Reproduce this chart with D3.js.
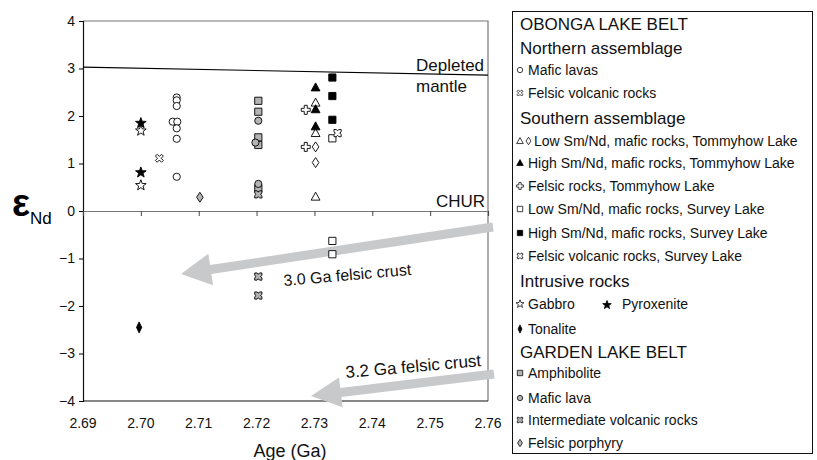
<!DOCTYPE html>
<html>
<head>
<meta charset="utf-8">
<script src="https://cdn.jsdelivr.net/npm/d3@7"></script>
<style>
  html, body { margin: 0; padding: 0; background: #fff; }
  svg { display: block; font-family: Arial, "Liberation Sans", sans-serif; }
</style>
</head>
<body>
<svg id="chart" width="817" height="460"></svg>
<script>
// --- data: [age (Ga), eNd] ---
const xTicks = [2.69, 2.70, 2.71, 2.72, 2.73, 2.74, 2.75, 2.76];
const yTicks = [-4, -3, -2, -1, 0, 1, 2, 3, 4];
const depletedMantle = [[2.69, 3.03], [2.76, 2.86]];

const maficLavasN   = [[2.7062, 2.39], [2.7062, 2.33], [2.7062, 2.21], [2.7055, 1.88], [2.7063, 1.88], [2.7062, 1.74], [2.7062, 1.52], [2.7062, 0.72]];
const felsicVolcN   = [[2.7032, 1.11]];
const lowTriT       = [[2.7302, 2.28], [2.7302, 1.64], [2.7302, 0.30]];
const lowDiaT       = [[2.7302, 1.35], [2.7302, 1.02]];
const highTriT      = [[2.7302, 2.60], [2.7302, 2.14], [2.7302, 1.78]];
const felsicT       = [[2.7285, 2.13], [2.7285, 1.35]];
const lowSqS        = [[2.7331, 1.53], [2.7331, -0.63], [2.7331, -0.91]];
const highSqS       = [[2.7331, 2.81], [2.7331, 2.42], [2.7331, 1.92]];
const felsicVolcS   = [[2.7340, 1.64]];
const gabbro        = [[2.7000, 1.69], [2.7000, 0.54]];
const pyroxenite    = [[2.7000, 1.85], [2.7000, 0.81]];
const tonalite      = [[2.6997, -2.45]];
const amphibolite   = [[2.7203, 2.32], [2.7203, 2.09], [2.7203, 1.55], [2.7203, 1.39], [2.7203, 0.48]];
const maficLavaG    = [[2.7203, 1.90], [2.7198, 1.44], [2.7203, 0.57]];
const intermVolcG   = [[2.7203, 0.35], [2.7203, -1.38], [2.7203, -1.78]];
const felsicPorphG  = [[2.7102, 0.29]];

const GREY = "#b4b4b4";

// marker shapes, centred on 0,0
const shapes = {
  circle: "M3.6,0A3.6,3.6,0,1,1,-3.6,0A3.6,3.6,0,1,1,3.6,0Z",
  square: "M-3.6,-3.6H3.6V3.6H-3.6Z",
  triangle: "M0,-4.6L4.4,3.4H-4.4Z",
  diamond: "M0,-5L3.3,0L0,5L-3.3,0Z",
  thinDiamond: "M0,-5.5L2.6,0L0,5.5L-2.6,0Z",
  cross: "M-1.5,-4.5H1.5V-1.5H4.5V1.5H1.5V4.5H-1.5V1.5H-4.5V-1.5H-1.5Z",
  xcross: "M-4,-2.2L-2.2,-4L0,-1.8L2.2,-4L4,-2.2L1.8,0L4,2.2L2.2,4L0,1.8L-2.2,4L-4,2.2L-1.8,0Z",
  notched: "M-3.6,-3.6H-1.2L0,-2.2L1.2,-3.6H3.6V-1.2L2.2,0L3.6,1.2V3.6H1.2L0,2.2L-1.2,3.6H-3.6V1.2L-2.2,0L-3.6,-1.2Z",
  star: starPath(5.6, 2.3)
};

function starPath(R, r) {
  const pts = [];
  for (let i = 0; i < 10; i++) {
    const a = -Math.PI / 2 + i * Math.PI / 5;
    const rad = i % 2 ? r : R;
    pts.push([rad * Math.cos(a), rad * Math.sin(a)]);
  }
  return "M" + pts.map(p => p[0].toFixed(2) + "," + p[1].toFixed(2)).join("L") + "Z";
}

// draw order matters where markers overlap
const series = [
  { data: maficLavasN,  shape: "circle",      fill: "#fff" },
  { data: felsicVolcN,  shape: "xcross",      fill: "#fff" },
  { data: felsicPorphG, shape: "diamond",     fill: GREY },
  { data: amphibolite,  shape: "square",      fill: GREY },
  { data: maficLavaG,   shape: "circle",      fill: GREY },
  { data: intermVolcG,  shape: "notched",     fill: GREY },
  { data: lowTriT,      shape: "triangle",    fill: "#fff" },
  { data: highTriT,     shape: "triangle",    fill: "#000" },
  { data: lowDiaT,      shape: "diamond",     fill: "#fff" },
  { data: felsicT,      shape: "cross",       fill: "#fff" },
  { data: lowSqS,       shape: "square",      fill: "#fff" },
  { data: highSqS,      shape: "square",      fill: "#000" },
  { data: felsicVolcS,  shape: "notched",     fill: "#fff" },
  { data: gabbro,       shape: "star",        fill: "#fff" },
  { data: pyroxenite,   shape: "star",        fill: "#000" },
  { data: tonalite,     shape: "thinDiamond", fill: "#000" }
];

const svg = d3.select("#chart");
const x = d3.scaleLinear().domain([2.69, 2.76]).range([83, 488]);
const y = d3.scaleLinear().domain([-4, 4]).range([401, 21]);

// frame: top and right in grey, left axis and bottom in black
svg.append("path")
  .attr("d", `M${x(2.69)},${y(4)}H${x(2.76)}V${y(-4)}`)
  .attr("fill", "none").attr("stroke", "#777").attr("stroke-width", 1.2);
svg.append("line")
  .attr("x1", x(2.69)).attr("x2", x(2.76)).attr("y1", y(-4)).attr("y2", y(-4))
  .attr("stroke", "#111").attr("stroke-width", 1.2);

// y axis
const yAxis = svg.append("g")
  .attr("transform", `translate(${x(2.69)},0)`)
  .call(d3.axisLeft(y).tickValues(yTicks).tickSize(4).tickFormat(d3.format("d")));
yAxis.select(".domain").attr("stroke", "#111").attr("stroke-width", 1.2);
yAxis.selectAll("text").attr("font-size", 14).attr("fill", "#111")
  .attr("font-family", "Arial, 'Liberation Sans', sans-serif").attr("x", -8);

// CHUR line with the x ticks hanging from it
const xAxis = svg.append("g")
  .attr("transform", `translate(0,${y(0)})`)
  .call(d3.axisBottom(x).tickValues(xTicks).tickSize(5).tickFormat(""));
xAxis.select(".domain").attr("stroke", "#777").attr("stroke-width", 1.2);
xAxis.selectAll(".tick line").attr("stroke", "#444");

// x tick labels along the bottom
svg.append("g").selectAll("text")
  .data(xTicks).join("text")
  .attr("x", d => x(d)).attr("y", y(-4) + 22)
  .attr("text-anchor", "middle").attr("dy", "0.35em")
  .attr("font-size", 14).attr("fill", "#111")
  .text(d => d3.format(".2f")(d));

svg.append("text")
  .attr("x", 290).attr("y", 451).attr("dy", "0.35em")
  .attr("text-anchor", "middle").attr("font-size", 18).attr("fill", "#111")
  .text("Age (Ga)");

// epsilon Nd label
const yl = svg.append("text").attr("x", 12).attr("y", 216).attr("fill", "#000");
yl.append("tspan").attr("font-size", 38).attr("font-weight", "bold").text("ε");
yl.append("tspan").attr("font-size", 17).attr("dy", 8).text("Nd");

// depleted mantle line
svg.append("line")
  .attr("x1", x(depletedMantle[0][0])).attr("y1", y(depletedMantle[0][1]))
  .attr("x2", x(depletedMantle[1][0])).attr("y2", y(depletedMantle[1][1]))
  .attr("stroke", "#000").attr("stroke-width", 1.2);

svg.append("text").attr("x", 416).attr("y", 65).attr("dy", "0.35em")
  .attr("font-size", 17).attr("fill", "#111").text("Depleted");
svg.append("text").attr("x", 416).attr("y", 86).attr("dy", "0.35em")
  .attr("font-size", 17).attr("fill", "#111").text("mantle");
svg.append("text").attr("x", 485).attr("y", 201).attr("dy", "0.35em")
  .attr("text-anchor", "end").attr("font-size", 17).attr("fill", "#111").text("CHUR");

// crustal evolution arrows
function arrow(tail, tip, shaft, headLen, headHalf) {
  const dx = tip[0] - tail[0], dy = tip[1] - tail[1];
  const L = Math.hypot(dx, dy), ux = dx / L, uy = dy / L, nx = -uy, ny = ux;
  const bx = tip[0] - ux * headLen, by = tip[1] - uy * headLen;
  const p = [
    [tail[0] + nx * shaft, tail[1] + ny * shaft],
    [bx + nx * shaft, by + ny * shaft],
    [bx + nx * headHalf, by + ny * headHalf],
    tip,
    [bx - nx * headHalf, by - ny * headHalf],
    [bx - nx * shaft, by - ny * shaft],
    [tail[0] - nx * shaft, tail[1] - ny * shaft]
  ];
  return "M" + p.map(q => q.join(",")).join("L") + "Z";
}
svg.append("path").attr("d", arrow([493, 227], [181, 274], 4.5, 30, 16)).attr("fill", "#c8c9cb");
svg.append("path").attr("d", arrow([494, 374], [311, 396], 4.5, 30, 15)).attr("fill", "#c8c9cb");

svg.append("text").attr("transform", "translate(284,286) rotate(-5)")
  .attr("font-size", 16).attr("fill", "#111").text("3.0 Ga felsic crust");
svg.append("text").attr("transform", "translate(346,378) rotate(-5)")
  .attr("font-size", 17).attr("fill", "#111").text("3.2 Ga felsic crust");

// data markers
const marks = svg.append("g");
series.forEach(s => {
  marks.append("g").selectAll("path")
    .data(s.data).join("path")
    .attr("transform", d => `translate(${x(d[0])},${y(d[1])})`)
    .attr("d", shapes[s.shape])
    .attr("fill", s.fill).attr("stroke", "#000").attr("stroke-width", 0.9);
});

// legend
const legendRows = [
  { y: 24,  head: "OBONGA LAKE BELT" },
  { y: 48,  head: "Northern assemblage" },
  { y: 70,  marks: [["circle", "#fff"]], label: "Mafic lavas" },
  { y: 93,  marks: [["xcross", "#fff"]], label: "Felsic volcanic rocks" },
  { y: 118, head: "Southern assemblage" },
  { y: 141, marks: [["triangle", "#fff"], ["diamond", "#fff"]], label: "Low Sm/Nd, mafic rocks, Tommyhow Lake" },
  { y: 163, marks: [["triangle", "#000"]], label: "High Sm/Nd, mafic rocks, Tommyhow Lake" },
  { y: 186, marks: [["cross", "#fff"]], label: "Felsic rocks, Tommyhow Lake" },
  { y: 209, marks: [["square", "#fff"]], label: "Low Sm/Nd, mafic rocks, Survey Lake" },
  { y: 233, marks: [["square", "#000"]], label: "High Sm/Nd, mafic rocks, Survey Lake" },
  { y: 256, marks: [["notched", "#fff"]], label: "Felsic volcanic rocks, Survey Lake" },
  { y: 281, head: "Intrusive rocks" },
  { y: 304, marks: [["star", "#fff"]], label: "Gabbro" },
  { y: 329, marks: [["thinDiamond", "#000"]], label: "Tonalite" },
  { y: 352, head: "GARDEN LAKE BELT" },
  { y: 373, marks: [["square", GREY]], label: "Amphibolite" },
  { y: 398, marks: [["circle", GREY]], label: "Mafic lava" },
  { y: 420, marks: [["notched", GREY]], label: "Intermediate volcanic rocks" },
  { y: 443, marks: [["diamond", GREY]], label: "Felsic porphyry" }
];

const lg = svg.append("g");
lg.append("rect").attr("x", 512.5).attr("y", 11.5).attr("width", 300).attr("height", 442)
  .attr("fill", "#fff").attr("stroke", "#111").attr("stroke-width", 1);

legendRows.forEach(r => {
  if (r.head) {
    lg.append("text").attr("x", 520).attr("y", r.y).attr("dy", "0.35em")
      .attr("font-size", 17).attr("fill", "#111").text(r.head);
    return;
  }
  r.marks.forEach((m, i) => {
    lg.append("path").attr("d", shapes[m[0]])
      .attr("transform", `translate(${520 + i * 8.5},${r.y}) scale(0.75)`)
      .attr("fill", m[1]).attr("stroke", "#000").attr("stroke-width", 1);
  });
  lg.append("text").attr("x", r.marks.length > 1 ? 534 : 528).attr("y", r.y).attr("dy", "0.35em")
    .attr("font-size", 14).attr("fill", "#111").text(r.label);
});
// Pyroxenite sits on the Gabbro row
lg.append("path").attr("d", shapes.star).attr("transform", "translate(607,305) scale(0.8)")
  .attr("fill", "#000").attr("stroke", "#000");
lg.append("text").attr("x", 622).attr("y", 304).attr("dy", "0.35em")
  .attr("font-size", 14).attr("fill", "#111").text("Pyroxenite");
</script>
</body>
</html>
